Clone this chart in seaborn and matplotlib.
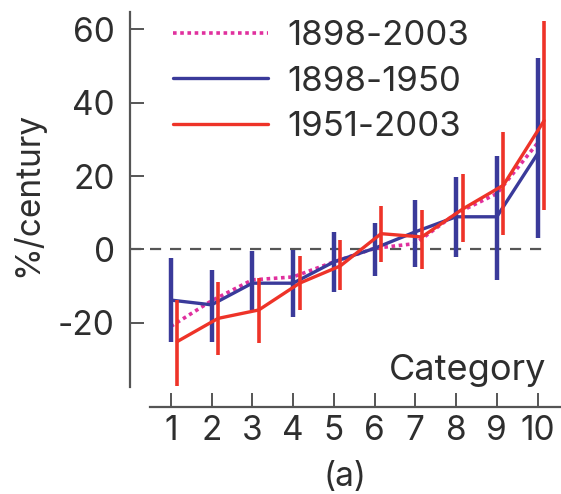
import numpy as np
import pandas as pd
import matplotlib
matplotlib.use("Agg")
import matplotlib.pyplot as plt
import seaborn as sns

# ---- data ----
categories = [1, 2, 3, 4, 5, 6, 7, 8, 9, 10]
tick_labels = ["1", "2", "3", "4", "5", "6", "7", "8", "9", "10"]
series_names = ["1898-2003", "1898-1950", "1951-2003"]

full_period = [-21.0, -14.0, -8.3, -7.5, -3.4, 0.3, 1.6, 9.8, 15.2, 29.0]

early = [-13.8, -15.1, -9.2, -9.2, -3.4, 0.3, 4.8, 8.9, 8.9, 26.1]
early_low = [-25.1, -25.1, -16.5, -18.5, -11.5, -7.3, -4.7, -2.0, -8.3, 3.0]
early_high = [-2.4, -5.6, -0.4, -0.2, 4.8, 7.1, 13.4, 19.7, 25.6, 52.2]

late = [-25.1, -18.8, -16.5, -9.2, -4.5, 4.3, 3.4, 11.0, 17.5, 35.1]
late_low = [-37.3, -28.7, -25.5, -16.5, -11.1, -3.4, -5.2, 2.1, 3.9, 10.7]
late_high = [-13.8, -8.8, -7.7, -1.8, 2.5, 11.8, 10.7, 20.5, 32.0, 62.3]

# ---- style ----
sns.set_theme(style="ticks")
plt.rcParams["font.family"] = ["Inter", "DejaVu Sans"]
plt.rcParams["axes.unicode_minus"] = False
TXT = "#2e2e2e"
SPINE = "#555555"
C_PINK = "#e0309e"
C_BLUE = "#3a3a9a"
C_RED = "#ee3328"
LATE_SHIFT = 0.16
FS_TICK = 24
FS_LEG = 25
FS_CAT = 26

fig = plt.figure(figsize=(5.61, 4.94), dpi=100)
ax = fig.add_axes([130 / 561, 1 - 387 / 494, 430 / 561, 376 / 494])

x = np.array(categories, dtype=float)
df = pd.DataFrame({
    "cat": np.concatenate([x, x, x + LATE_SHIFT]),
    "val": np.concatenate([full_period, early, late]),
    "series": np.repeat(series_names, len(categories)),
})

ax.axhline(0, xmin=0, xmax=10.3 / 10.55, color="#555555", lw=1.6,
           dashes=(5, 4), zorder=1)

sns.lineplot(data=df[df.series == series_names[0]], x="cat", y="val",
             color=C_PINK, lw=2.6, ax=ax, label=series_names[0], zorder=2,
             dashes=False)
ax.lines[-1].set_dashes((1.0, 1.0))

ax.vlines(x, early_low, early_high, color=C_BLUE, lw=3.2, zorder=3)
sns.lineplot(data=df[df.series == series_names[1]], x="cat", y="val",
             color=C_BLUE, lw=2.4, ax=ax, label=series_names[1], zorder=4)

ax.vlines(x + LATE_SHIFT, late_low, late_high, color=C_RED, lw=2.6, zorder=5)
sns.lineplot(data=df[df.series == series_names[2]], x="cat", y="val",
             color=C_RED, lw=2.4, ax=ax, label=series_names[2], zorder=6)

ax.set_xlim(0, 10.55)
ax.set_ylim(-37.5, 65)
ax.set_xticks(categories)
ax.set_xticklabels(tick_labels)
ax.set_yticks([-20, 0, 20, 40, 60])

sns.despine(ax=ax)
ax.spines["bottom"].set_position(("outward", 14.4))
ax.spines["bottom"].set_bounds(0.5, 10.55)
ax.spines["left"].set_bounds(-37.5, 64.8)
for s in ("left", "bottom"):
    ax.spines[s].set_color(SPINE)
    ax.spines[s].set_linewidth(1.6)

ax.tick_params(axis="both", direction="in", length=10, width=1.4,
               color=SPINE, labelsize=FS_TICK, labelcolor=TXT, pad=11)
ax.tick_params(axis="x", pad=6)

ax.set_xlabel("(a)", fontsize=FS_TICK, color=TXT, labelpad=10)
ax.set_ylabel("%/century", fontsize=FS_TICK, color=TXT)
ax.yaxis.set_label_coords(-0.20, 0.513)

ax.text(10.22, -35.5, "Category", ha="right", va="baseline",
        fontsize=FS_CAT, color=TXT)

leg = ax.legend(loc="upper left", bbox_to_anchor=(0.10, 0.975), frameon=False,
                fontsize=FS_LEG, handlelength=2.75, handletextpad=0.55,
                labelspacing=0.38, borderpad=0, borderaxespad=0)
for t in leg.get_texts():
    t.set_color(TXT)

fig.savefig("out.png", dpi=100)
